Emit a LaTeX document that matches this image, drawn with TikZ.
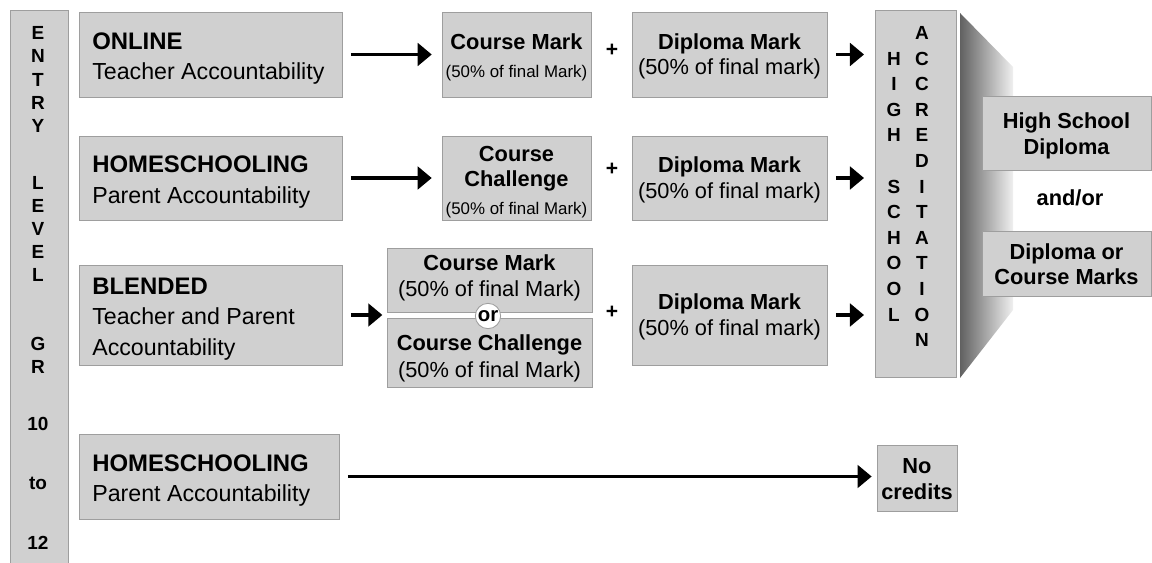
\documentclass[tikz,border=0pt]{standalone}
\usepackage{fontspec}
\setmainfont{Liberation Sans}
\usetikzlibrary{arrows.meta}
\definecolor{boxfill}{RGB}{208,208,208}
\definecolor{boxline}{RGB}{158,158,158}
\newcommand{\hdtxt}[1]{{\bfseries\fontsize{15.5}{18}\selectfont #1}}
\newcommand{\mdtxt}[1]{{\fontsize{15.5}{18}\selectfont #1}}
\newcommand{\smtxt}[1]{{\fontsize{12}{14}\selectfont #1}}
\newcommand{\ttltxt}[1]{{\bfseries\fontsize{17}{21.5}\selectfont #1}}
% box and its text: [shift]{name}{x1}{y1}{x2}{y2}{text}
\newcommand{\panelbox}[7][1]{\node[panel, minimum width={(#5-#3)*0.025cm}, minimum height={(#6-#4)*0.025cm}] (#2) at ({(#3+#5)/2},{(#4+#6)/2}) {};
  \node[boxtext] (#2t) at ({(#3+#5)/2},{(#4+#6)/2+#1}) {#7};}
\newcommand{\srcbox}[7][4]{\node[panel, minimum width={(#5-#3)*0.025cm}, minimum height={(#6-#4)*0.025cm}] (#2) at ({(#3+#5)/2},{(#4+#6)/2}) {};
  \node[boxtext, anchor=west, align=flush left, font=\fontsize{16.5}{21.5}\selectfont] (#2t) at (#3+13,{(#4+#6)/2+#1}) {#7};}
\tikzset{
  panel/.style={draw=boxline, fill=boxfill, line width=0.6pt, inner sep=0pt},
  boxtext/.style={inner sep=0pt, align=center, font=\fontsize{15.5}{18}\selectfont},
  flow/.style={line width=2.4pt, -{Triangle[length=10pt,width=16pt]}, shorten <=6pt, shorten >=7pt},
  letter/.style={font=\bfseries\fontsize{13.5}{14}\selectfont, inner sep=0pt},
  plus/.style={font=\bfseries\fontsize{15}{18}\selectfont, inner sep=0pt},
}

\begin{document}
\begin{tikzpicture}[x=0.025cm, y=-0.025cm]
    \useasboundingbox (0,0) rectangle (1152,563);
    % entry level bar
    \panelbox{entry}{10}{10}{68}{566}{}
    \foreach \t/\y [count=\i] in {E/33,N/56,T/80,R/103,Y/126,L/183,E/206,V/229,E/252,L/275,G/344,R/367,10/424,to/483,12/543}
        \node[letter] (en\i) at (38,\y) {\t};
    % row1
    \srcbox{online}{79}{12}{342}{97}{\ttltxt{ONLINE}\\Teacher Accountability}
    \panelbox[3]{cm1}{442}{12}{591}{97}{\hdtxt{Course Mark}\\[2pt]\smtxt{(50\% of final Mark)}}
    \node[plus] (p1) at (612,50) {+};
    \panelbox[2]{dip1}{632}{12}{827}{97}{\hdtxt{Diploma Mark}\\\mdtxt{(50\% of final mark)}}
    % row2
    \srcbox{home}{79}{136}{342}{220}{\ttltxt{HOMESCHOOLING}\\Parent Accountability}
    \panelbox[4]{cc2}{442}{136}{591}{220}{\hdtxt{Course}\\\hdtxt{Challenge}\\[2pt]\smtxt{(50\% of final Mark)}}
    \node[plus] (p2) at (612,169) {+};
    \panelbox[2]{dip2}{632}{136}{827}{220}{\hdtxt{Diploma Mark}\\\mdtxt{(50\% of final mark)}}
    % row3
    \srcbox{blend}{79}{265}{342}{365}{\ttltxt{BLENDED}\\Teacher and Parent\\Accountability}
    \panelbox[-2]{cm3}{387}{248}{592}{312}{\hdtxt{Course Mark}\\[1pt]\mdtxt{(50\% of final Mark)}}
    \panelbox[6]{cc3}{387}{318}{592}{387}{\hdtxt{Course Challenge}\\[1pt]\mdtxt{(50\% of final Mark)}}
    \node[circle, draw=boxline, fill=white, line width=0.6pt, inner sep=0pt, minimum size=18pt, font=\bfseries\fontsize{14.5}{16}\selectfont] (or) at (488,316) {or};
    \node[plus] (p3) at (612,312) {+};
    \panelbox[2]{dip3}{632}{265}{827}{365}{\hdtxt{Diploma Mark}\\\mdtxt{(50\% of final mark)}}
    % row4
    \srcbox{home4}{79}{434}{339}{519}{\ttltxt{HOMESCHOOLING}\\Parent Accountability}
    \panelbox{nocr}{877}{445}{957}{511}{\hdtxt{No}\\\hdtxt{credits}}
    % accreditation
    \panelbox{hsa}{875}{10}{956}{377}{}
    \foreach \c [count=\i] in {A,C,C,R,E,D,I,T,A,T,I,O,N}
        \node[letter] (acc\i) at (922,{33+(\i-1)*25.6}) {\c};
    \foreach \c/\k in {H/1,I/2,G/3,H/4,S/6,C/7,H/8,O/9,O/10,L/11}
        \node[letter] (hs\k) at (894,{33+\k*25.6}) {\c};
    \shade[left color=black!62, right color=black!6] (960,13) -- (1013,67) -- (1013,310) -- (960,378) -- cycle;
    % outcomes
    \panelbox[3]{hsd}{982}{96}{1151}{170}{\hdtxt{High School}\\\hdtxt{Diploma}}
    \node[font=\bfseries\fontsize{15.5}{18}\selectfont] (andor) at (1070,198) {and/or};
    \panelbox{dcm}{982}{231}{1151}{296}{\hdtxt{Diploma or}\\\hdtxt{Course Marks}}
    % arrows
    \draw[flow] (online) -- (cm1);
    \draw[flow] (home) -- (cc2);
    \draw[flow, shorten >=3pt] (blend) -- (blend -| cm3.west);
    \draw[flow, shorten >=3.5pt] (home4) -- (home4 -| nocr.west);
    \draw[flow, shorten >=7.5pt] (dip1) -- (dip1 -| hsa.west);
    \draw[flow, shorten >=7.5pt] (dip2) -- (dip2 -| hsa.west);
    \draw[flow, shorten >=7.5pt] (dip3) -- (dip3 -| hsa.west);
\end{tikzpicture}
\end{document}
